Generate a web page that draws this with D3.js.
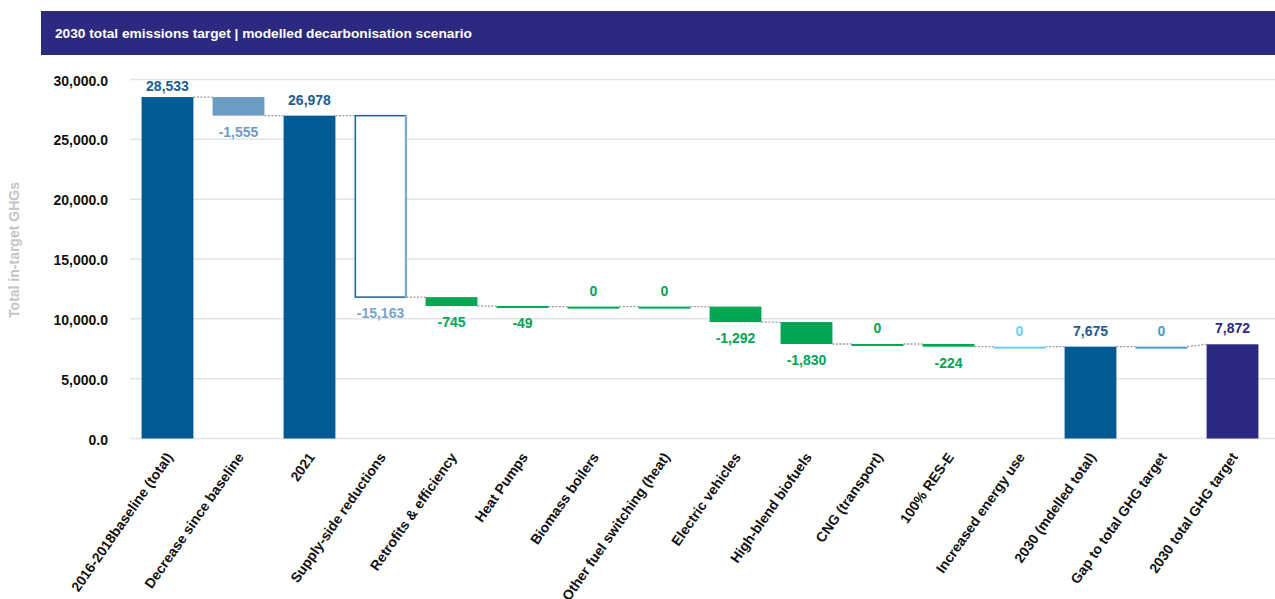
<!DOCTYPE html>
<html>
<head>
<meta charset="utf-8">
<script src="https://cdn.jsdelivr.net/npm/d3@7"></script>
<style>
  body { margin: 0; background: #fff; }
  svg { display: block; font-family: "Liberation Sans", Arial, Helvetica, sans-serif; }
</style>
</head>
<body>
<svg id="chart" width="1275" height="599"></svg>
<script>
// ---- data ----
const title = "2030 total emissions target | modelled decarbonisation scenario";
const yTitle = "Total in-target GHGs";
const categories = [
  "2016-2018baseline (total)", "Decrease since baseline", "2021", "Supply-side reductions",
  "Retrofits & efficiency", "Heat Pumps", "Biomass boilers", "Other fuel switching (heat)",
  "Electric vehicles", "High-blend biofuels", "CNG (transport)", "100% RES-E",
  "Increased energy use", "2030 (mdelled total)", "Gap to total GHG target", "2030 total GHG target"
];
const values = [28533, -1555, 26978, -15163, -745, -49, 0, 0, -1292, -1830, 0, -224, 0, 7675, 0, 7872];
// "total" bars stand on zero, "step" bars float from the running level
const kinds = ["total", "step", "total", "step", "step", "step", "step", "step",
               "step", "step", "step", "step", "step", "total", "step", "total"];
const yTicks = [0, 5000, 10000, 15000, 20000, 25000, 30000];

// ---- styles ----
const DARK = "#005a94", GREEN = "#00a651";
const barFills = [DARK, "#6b9dc4", DARK, "#ffffff", GREEN, GREEN, GREEN, GREEN,
                  GREEN, GREEN, GREEN, GREEN, "#6dcff6", DARK, "#4aa0c8", "#2b2980"];
const labelFills = ["#1a5c96", "#6b9dc4", "#1a5c96", "#78a5cc", GREEN, GREEN, GREEN, GREEN,
                    GREEN, GREEN, GREEN, GREEN, "#6dcff6", "#1a5c96", "#4a9cc4", "#2b2980"];

const svg = d3.select("#chart");
const W = 1275;

// header band
svg.append("rect").attr("x", 41).attr("y", 11).attr("width", W - 41).attr("height", 44)
  .attr("fill", "#2b2a80");
svg.append("text").attr("x", 55).attr("y", 38).attr("fill", "#fff")
  .attr("font-size", 13.7).attr("font-weight", "bold").text(title);

// scales
const x = d3.scaleBand().domain(categories).range([132, 1268])
  .paddingInner(0.27).paddingOuter(0.135);
const y = d3.scaleLinear().domain([0, 30000]).range([438.5, 79.5]);

const fmtLocale = d3.formatLocale({ decimal: ".", thousands: ",", grouping: [3], currency: ["", ""], minus: "-" });
const fmtVal = fmtLocale.format(",");
const fmtTick = fmtLocale.format(",.1f");

// gridlines + y axis labels
const yAxis = d3.axisLeft(y).tickValues(yTicks).tickFormat(fmtTick).tickSize(0).tickPadding(0);
const gAxis = svg.append("g").attr("transform", "translate(108,0)").call(yAxis);
gAxis.select(".domain").remove();
gAxis.selectAll("text").attr("font-size", 14).attr("font-weight", "bold")
  .attr("fill", "#111").attr("font-family", "Liberation Sans, Arial, sans-serif")
  .attr("dy", "0.4em");
svg.append("g").selectAll("line").data(yTicks).join("line")
  .attr("x1", 130).attr("x2", W).attr("y1", d => y(d)).attr("y2", d => y(d))
  .attr("stroke", "#e3e3e3").attr("stroke-width", 1.5);

// y axis title
svg.append("text").attr("transform", "translate(19,250) rotate(-90)")
  .attr("text-anchor", "middle").attr("font-size", 14).attr("font-weight", "bold")
  .attr("fill", "#c4c4c4").text(yTitle);

// running levels for the waterfall
let level = 0;
const bars = categories.map((c, i) => {
  let start, end;
  if (kinds[i] === "total") { start = 0; end = values[i]; }
  else { start = level; end = level + values[i]; }
  level = end;
  return { c, i, v: values[i], kind: kinds[i], start, end };
});

const bw = x.bandwidth();
const MIN_H = 2;

// connectors between consecutive bars
const conn = [];
for (let i = 0; i < bars.length - 1; i++) {
  const a = bars[i], b = bars[i + 1];
  const yb = b.kind === "total" ? y(b.end) : y(b.start);
  conn.push({ x1: x(a.c) + bw, y1: y(a.end), x2: x(b.c), y2: yb });
}
svg.append("g").selectAll("line").data(conn).join("line")
  .attr("x1", d => d.x1).attr("y1", d => d.y1).attr("x2", d => d.x2).attr("y2", d => d.y2)
  .attr("stroke", "#9a9a9a").attr("stroke-width", 1.3).attr("stroke-dasharray", "2,1.5");

// bars
const gBars = svg.append("g");
bars.forEach(d => {
  const top = y(Math.max(d.start, d.end));
  const h = Math.max(MIN_H, Math.abs(y(d.start) - y(d.end)));
  const r = gBars.append("rect").attr("x", x(d.c)).attr("y", top).attr("width", bw).attr("height", h)
    .attr("fill", barFills[d.i]);
  if (barFills[d.i] === "#ffffff") {
    r.attr("x", x(d.c) + 0.75).attr("width", bw - 1.5)
      .attr("stroke", "#1d5e98").attr("stroke-width", 1.5);
    gBars.append("rect").attr("x", x(d.c) + bw - 1.5).attr("y", top - 0.75)
      .attr("width", 2.2).attr("height", h + 1.5).attr("fill", "#7fa9ce");
  }
});

// value labels
svg.append("g").selectAll("text").data(bars).join("text")
  .attr("x", d => x(d.c) + bw / 2)
  .attr("y", d => {
    if (d.kind === "total") return Math.max(y(d.end) - 11, 91);
    if (d.v < 0) return y(d.end) + 21;
    return y(d.end) - 11;
  })
  .attr("text-anchor", "middle").attr("font-size", 14).attr("font-weight", "bold")
  .attr("fill", d => labelFills[d.i])
  .text(d => fmtVal(d.v));

// category labels
svg.append("g").selectAll("text").data(categories).join("text")
  .attr("transform", d => `translate(${x(d) + bw / 2 + 6},457) rotate(-55)`)
  .attr("text-anchor", "end").attr("font-size", 14).attr("font-weight", "bold")
  .attr("fill", "#111").text(d => d);
</script>
</body>
</html>
